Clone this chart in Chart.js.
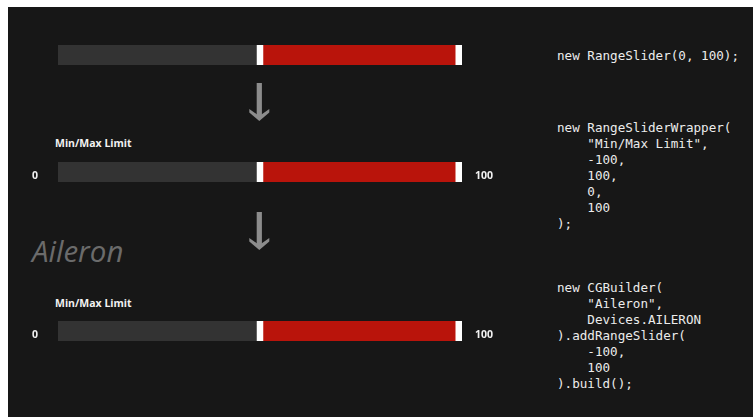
<!DOCTYPE html>
<html>
<head>
<meta charset="utf-8">
<script src="https://cdn.jsdelivr.net/npm/chart.js@4/dist/chart.umd.min.js"></script>
<style>
  html, body { margin: 0; padding: 0; background: #ffffff; width: 753px; height: 417px; overflow: hidden; }
  #stage { position: absolute; left: 8px; top: 7px; width: 745px; height: 410px; background: #171717; }
  .abs { position: absolute; }
  canvas.bar { position: absolute; }
  .lbl { position: absolute; font-family: "Open Sans", sans-serif; font-weight: 700; color: #f2f2f2; font-size: 10.5px; line-height: 12px; white-space: nowrap; }
  .code { position: absolute; margin: 0; font-family: "DejaVu Sans Mono", monospace; font-size: 12.6px; line-height: 16px; color: #ececec; white-space: pre; }
  .title { position: absolute; font-family: "Open Sans", sans-serif; font-style: italic; font-weight: 400; font-size: 29.5px; color: #6b6b6b; line-height: 30px; white-space: nowrap; }
</style>
</head>
<body>
<div id="stage"></div>
<svg class="abs" style="left:0;top:0" width="753" height="417" id="arrows"></svg>
<script>
// ---- data ----
const sliderNames = ['RangeSlider', 'RangeSliderWrapper', 'CGBuilder'];
const rangeMin = [-100, -100, -100];
const rangeMax = [100, 100, 100];
const lowValues = [0, 0, 0];
const highValues = [100, 100, 100];
const sliderLabels = ['', 'Min/Max Limit', 'Min/Max Limit'];
const showValueLabels = [false, true, true];
const deviceTitle = 'Aileron';
const codeBlocks = [
  'new RangeSlider(0, 100);',
  'new RangeSliderWrapper(\n    "Min/Max Limit",\n    -100,\n    100,\n    0,\n    100\n);',
  'new CGBuilder(\n    "Aileron",\n    Devices.AILERON\n).addRangeSlider(\n    -100,\n    100\n).build();'
];

// ---- layout (positions only) ----
const trackLeft = 58, trackWidth = 404, trackHeight = 20;
const trackTops = [45, 162, 321];
const labelTops = [0, 137, 297];
const codeTops = [48, 120, 280];
const arrowTops = [83, 212];
const handleW = 6.5;

const handlePlugin = {
  id: 'handles',
  afterDatasetsDraw(chart, args, opts) {
    const xs = chart.scales.x;
    const meta = chart.getDatasetMeta(0);
    const el = meta.data[0];
    const top = el.y - el.height / 2, h = el.height;
    const left = xs.getPixelForValue(xs.min), right = xs.getPixelForValue(xs.max);
    const span = right - left - handleW;
    const ctx = chart.ctx;
    ctx.save();
    ctx.fillStyle = '#ffffff';
    [opts.low, opts.high].forEach(v => {
      const frac = (v - xs.min) / (xs.max - xs.min);
      ctx.fillRect(left + frac * span, top, handleW, h);
    });
    ctx.restore();
  }
};

const stage = document.body;
sliderNames.forEach((name, i) => {
  const cv = document.createElement('canvas');
  cv.className = 'bar';
  cv.width = trackWidth; cv.height = trackHeight;
  cv.style.left = trackLeft + 'px'; cv.style.top = trackTops[i] + 'px';
  cv.style.width = trackWidth + 'px'; cv.style.height = trackHeight + 'px';
  stage.appendChild(cv);
  new Chart(cv, {
    type: 'bar',
    data: {
      labels: [name],
      datasets: [
        { label: 'track', order: 2, data: [[rangeMin[i], rangeMax[i]]], backgroundColor: '#333333', borderWidth: 0 },
        { label: 'range', order: 1, data: [[lowValues[i], highValues[i]]], backgroundColor: '#b9140b', borderWidth: 0 }
      ]
    },
    options: {
      indexAxis: 'y',
      responsive: false,
      animation: false,
      events: [],
      layout: { padding: 0 },
      datasets: { bar: { barPercentage: 1, categoryPercentage: 1, grouped: false } },
      scales: {
        x: { type: 'linear', min: rangeMin[i], max: rangeMax[i], display: false },
        y: { display: false }
      },
      plugins: { legend: { display: false }, tooltip: { enabled: false }, handles: { low: lowValues[i], high: highValues[i] } }
    },
    plugins: [handlePlugin]
  });

  if (sliderLabels[i]) {
    const l = document.createElement('div');
    l.className = 'lbl'; l.textContent = sliderLabels[i];
    l.style.left = '55px'; l.style.top = labelTops[i] + 'px';
    stage.appendChild(l);
  }
  if (showValueLabels[i]) {
    const a = document.createElement('div');
    a.className = 'lbl'; a.textContent = String(lowValues[i]);
    a.style.left = '32px'; a.style.top = (trackTops[i] + 7) + 'px';
    stage.appendChild(a);
    const b = document.createElement('div');
    b.className = 'lbl'; b.textContent = String(highValues[i]);
    b.style.left = '475px'; b.style.top = (trackTops[i] + 7) + 'px';
    stage.appendChild(b);
  }
});

codeBlocks.forEach((txt, i) => {
  const p = document.createElement('pre');
  p.className = 'code'; p.textContent = txt;
  p.style.left = '557px'; p.style.top = codeTops[i] + 'px';
  stage.appendChild(p);
});

const t = document.createElement('div');
t.className = 'title'; t.textContent = deviceTitle;
t.style.left = '32px'; t.style.top = '236px';
stage.appendChild(t);

// arrows
const svg = document.getElementById('arrows');
let s = '';
arrowTops.forEach(y0 => {
  const cx = 259.3;
  s += `<rect x="${cx-2.6}" y="${y0}" width="5.2" height="34" fill="#8c8c8c"/>`;
  s += `<polygon fill="#8c8c8c" points="${cx-10},${y0+26} ${cx},${y0+33} ${cx+10},${y0+26} ${cx+10},${y0+29.5} ${cx},${y0+38} ${cx-10},${y0+29.5}"/>`;
});
svg.innerHTML = s;
document.body.appendChild(svg);
</script>
</body>
</html>
